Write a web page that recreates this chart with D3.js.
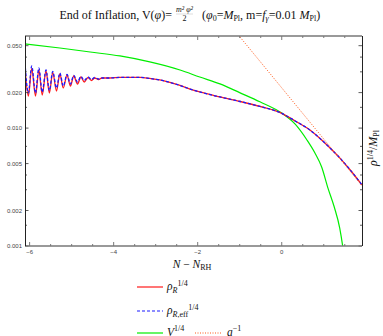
<!DOCTYPE html>
<html>
<head>
<meta charset="utf-8">
<script src="https://cdn.jsdelivr.net/npm/d3@7"></script>
<style>
body { margin: 0; background: #fff; }
svg { display: block; }
text { font-family: "Liberation Serif", "Times New Roman", serif; fill: #111; }
.tk { font-family: "Liberation Sans", Arial, sans-serif; font-size: 6px; fill: #444; }
</style>
</head>
<body>
<svg width="383" height="336"></svg>
<script>
// values
var rhoN = [-6.11,-6.03,-5.95,-5.86,-5.78,-5.70,-5.61,-5.53,-5.45,-5.36,-5.28,-5.20,-5.11,-5.03,-4.95,-4.86,-4.78,-4.70,-4.61,-4.53,-4.45,-4.36,-4.28,
            -4.09,-3.85,-3.61,-3.37,-3.14,-2.90,-2.66,-2.42,-2.18,-1.95,-1.47,-0.99,-0.52,0,0.32,0.67,0.95,1.15,1.39,1.63,1.91];
var rhoR = [0.03235,0.01872,0.03203,0.01872,0.03110,0.01909,0.03050,0.01985,0.02962,0.02064,0.02876,0.02188,0.02820,0.02276,0.02766,0.02366,0.02713,0.02460,0.02687,0.02533,0.02661,0.02583,0.02661,
            0.0266,0.0269,0.0269,0.0269,0.02635,0.02559,0.02437,0.02298,0.02145,0.02024,0.01836,0.01681,0.01525,0.01335,0.01149,0.00964,0.00793,0.00678,0.00554,0.00441,0.00329];
var rhoEff = [0.03566,0.01985,0.03364,0.01985,0.03235,0.02024,0.03110,0.02084,0.03021,0.02188,0.02934,0.02276,0.02849,0.02366,0.02794,0.02460,0.02740,0.02533,0.02713,0.02583,0.02687,0.02609,0.02661,
              0.0266,0.0269,0.0269,0.0269,0.02635,0.02559,0.02437,0.02298,0.02145,0.02024,0.01836,0.01681,0.01525,0.01335,0.01149,0.00964,0.00793,0.00678,0.00554,0.00441,0.00329];
var potN = [-6.11,-5.28,-4.56,-3.85,-3.14,-2.42,-1.95,-1.47,-0.99,-0.52,0,0.32,0.60,0.79,0.95,1.10,1.25,1.38,1.45,1.55];
var potV = [0.0517,0.0478,0.0442,0.0409,0.0364,0.0311,0.0271,0.0237,0.0199,0.0167,0.0134,0.0108,0.00793,0.00615,0.00468,0.00310,0.00214,0.00142,0.00100,0.0005];
var aInvN = [-1.1, 1.91];
var aInv = [0.0659, 0.00325];

var xMajor = [-6,-4,-2,0];
var xMinor = [-5.5,-5,-4.5,-3.5,-3,-2.5,-1.5,-1,-0.5,0.5,1,1.5];
var yMajor = [0.001,0.002,0.005,0.01,0.02,0.05];
var yMinor = [0.0015,0.003,0.004,0.007,0.015,0.03,0.04];

var svg = d3.select("svg");
var pL = 25, pR = 362, pT = 36, pB = 246;

var x = d3.scaleLinear().domain([-6.11, 1.91]).range([pL, pR]);
var y = d3.scaleLog().domain([0.001, 0.0604]).range([pB, pT]);

svg.append("clipPath").attr("id", "clip")
  .append("rect").attr("x", pL).attr("y", pT)
  .attr("width", pR - pL).attr("height", pB - pT);

var plot = svg.append("g").attr("clip-path", "url(#clip)");

function series(ns, vs) { return ns.map(function(n, i) { return [n, vs[i]]; }); }

var line = d3.line()
  .x(function(d) { return x(d[0]); })
  .y(function(d) { return y(d[1]); })
  .curve(d3.curveMonotoneX);

plot.append("path").datum(series(potN, potV))
  .attr("d", line).attr("fill", "none").attr("stroke", "#00ee00").attr("stroke-width", 1.2);
plot.append("path").datum(series(rhoN, rhoR))
  .attr("d", line).attr("fill", "none").attr("stroke", "#ff1a1a").attr("stroke-width", 1.3);
plot.append("path").datum(series(rhoN, rhoEff))
  .attr("d", line).attr("fill", "none").attr("stroke", "#1a1aff").attr("stroke-width", 1.3)
  .attr("stroke-dasharray", "3,2");
plot.append("path").datum(series(aInvN, aInv))
  .attr("d", d3.line().x(function(d) { return x(d[0]); }).y(function(d) { return y(d[1]); }))
  .attr("fill", "none").attr("stroke", "#ff5a1a").attr("stroke-width", 1).attr("stroke-dasharray", "1,1.5");

// frame with inward ticks
var frame = svg.append("g");

xMajor.concat(xMinor).forEach(function(v) {
  var len = xMajor.indexOf(v) >= 0 ? 4 : 2;
  frame.append("line").attr("x1", x(v)).attr("x2", x(v)).attr("y1", pB).attr("y2", pB - len)
    .attr("stroke", "#555").attr("stroke-width", 0.8);
  frame.append("line").attr("x1", x(v)).attr("x2", x(v)).attr("y1", pT).attr("y2", pT + len)
    .attr("stroke", "#555").attr("stroke-width", 0.8);
});
xMajor.forEach(function(v) {
  frame.append("text").attr("class", "tk").attr("x", x(v)).attr("y", 254)
    .attr("text-anchor", "middle").text(v < 0 ? "\u2212" + (-v) : v);
});
yMajor.concat(yMinor).forEach(function(v) {
  var len = yMajor.indexOf(v) >= 0 ? 3.5 : 2;
  frame.append("line").attr("x1", pL).attr("x2", pL + len).attr("y1", y(v)).attr("y2", y(v))
    .attr("stroke", "#333").attr("stroke-width", 0.8);
  frame.append("line").attr("x1", pR).attr("x2", pR - len).attr("y1", y(v)).attr("y2", y(v))
    .attr("stroke", "#333").attr("stroke-width", 0.8);
});
yMajor.forEach(function(v) {
  frame.append("text").attr("class", "tk").attr("x", 22).attr("y", y(v) + 2)
    .attr("text-anchor", "end").text(v.toFixed(3));
});

frame.append("line").attr("x1", pL).attr("x2", pR).attr("y1", pT).attr("y2", pT)
  .attr("stroke", "#777").attr("stroke-width", 1.5);
frame.append("line").attr("x1", pL).attr("x2", pR).attr("y1", pB).attr("y2", pB)
  .attr("stroke", "#777").attr("stroke-width", 1.5);
frame.append("line").attr("x1", pL + 0.5).attr("x2", pL + 0.5).attr("y1", pT).attr("y2", pB)
  .attr("stroke", "#222").attr("stroke-width", 1);
frame.append("line").attr("x1", pR + 0.5).attr("x2", pR + 0.5).attr("y1", pT).attr("y2", pB)
  .attr("stroke", "#222").attr("stroke-width", 1);

// title, pieces pinned to where they sit in the reference
var title = svg.append("g");
var t1 = title.append("text").attr("x", 172).attr("y", 19).attr("font-size", 12).attr("text-anchor", "end");
t1.append("tspan").text("End of Inflation, V(");
t1.append("tspan").attr("font-style", "italic").text("\u03c6");
t1.append("tspan").text(")=");
var num = title.append("text").attr("x", 184.5).attr("y", 12).attr("font-size", 8).attr("font-style", "italic")
  .attr("text-anchor", "middle").text("m\u00b2 \u03c6\u00b2");
var fw = num.node().getComputedTextLength();
title.append("text").attr("x", 184.5).attr("y", 21).attr("font-size", 8).attr("text-anchor", "middle").text("2");
title.append("line").attr("x1", 184.5 - fw / 2).attr("x2", 184.5 + fw / 2).attr("y1", 14).attr("y2", 14)
  .attr("stroke", "#aaa").attr("stroke-width", 0.4);
var t2 = title.append("text").attr("x", 202).attr("y", 19).attr("font-size", 12);
t2.append("tspan").text("(");
t2.append("tspan").attr("font-style", "italic").text("\u03c6");
t2.append("tspan").attr("font-size", 8).attr("dy", 2).text("0");
t2.append("tspan").attr("dy", -2).text("=");
t2.append("tspan").attr("font-style", "italic").text("M");
t2.append("tspan").attr("font-size", 8).attr("dy", 2).text("Pl");
t2.append("tspan").attr("dy", -2).text(", m=");
t2.append("tspan").attr("font-style", "italic").text("f");
t2.append("tspan").attr("font-size", 8).attr("font-style", "italic").attr("dy", 2).text("\u03b3");
t2.append("tspan").attr("dy", -2).text("=0.01 ");
t2.append("tspan").attr("font-style", "italic").text("M");
t2.append("tspan").attr("font-size", 8).attr("dy", 2).text("Pl");
t2.append("tspan").attr("dy", -2).text(")");

// axis labels
var xl = svg.append("text").attr("x", 192).attr("y", 268).attr("font-size", 11.5).attr("text-anchor", "middle");
xl.append("tspan").attr("font-style", "italic").text("N");
xl.append("tspan").text(" \u2212 ");
xl.append("tspan").attr("font-style", "italic").text("N");
xl.append("tspan").attr("font-size", 8).attr("dy", 2).text("RH");

var yl = svg.append("text").attr("font-size", 12).attr("text-anchor", "middle")
  .attr("transform", "translate(377,148) rotate(-90)");
yl.append("tspan").attr("font-style", "italic").text("\u03c1");
yl.append("tspan").attr("font-size", 8).attr("dy", -4.5).text("1/4");
yl.append("tspan").attr("dy", 4.5).text("/");
yl.append("tspan").attr("font-style", "italic").text("M");
yl.append("tspan").attr("font-size", 8).attr("dy", 2).text("Pl");

// legend
var legend = svg.append("g");
function legLine(x0, yy, color, dash) {
  legend.append("line").attr("x1", x0).attr("x2", x0 + 26).attr("y1", yy).attr("y2", yy)
    .attr("stroke", color).attr("stroke-width", 1.2).attr("stroke-dasharray", dash);
}
legLine(137, 287, "#ff1a1a", null);
legLine(137, 311, "#1a1aff", "3,2");
legLine(137, 333, "#00ee00", null);
legLine(195, 333, "#ff5a1a", "1,1.5");

var l1 = legend.append("text").attr("x", 167).attr("y", 290).attr("font-size", 11.5);
l1.append("tspan").attr("font-style", "italic").text("\u03c1");
l1.append("tspan").attr("font-style", "italic").attr("font-size", 8).attr("dy", 2.5).text("R");
l1.append("tspan").attr("font-size", 8).attr("dy", -6.5).text("1/4");

var l2 = legend.append("text").attr("x", 167).attr("y", 314).attr("font-size", 11.5);
l2.append("tspan").attr("font-style", "italic").text("\u03c1");
l2.append("tspan").attr("font-style", "italic").attr("font-size", 8).attr("dy", 2.5).text("R");
l2.append("tspan").attr("font-size", 8).text(",eff");
l2.append("tspan").attr("font-size", 8).attr("dy", -6.5).text("1/4");

var l3 = legend.append("text").attr("x", 167).attr("y", 335.5).attr("font-size", 11.5);
l3.append("tspan").attr("font-style", "italic").text("V");
l3.append("tspan").attr("font-size", 8).attr("dy", -4.5).text("1/4");

var l4 = legend.append("text").attr("x", 227).attr("y", 335.5).attr("font-size", 11.5);
l4.append("tspan").attr("font-style", "italic").text("a");
l4.append("tspan").attr("font-size", 8).attr("dy", -4.5).text("\u22121");
</script>
</body>
</html>
